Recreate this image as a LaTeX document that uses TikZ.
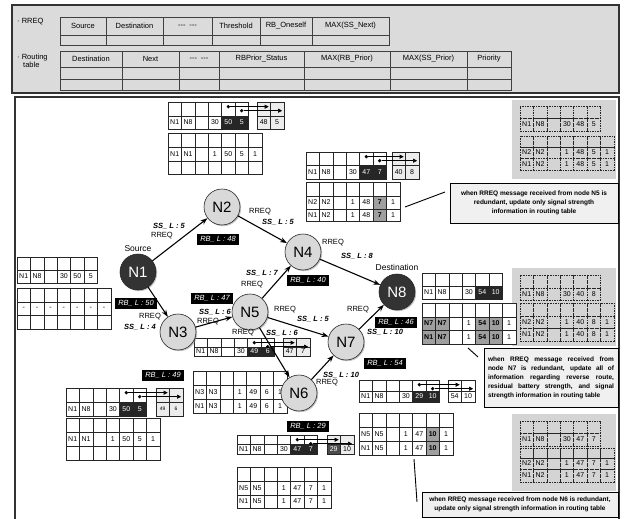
\documentclass[tikz,border=0pt]{standalone}
\usepackage{fontspec}
\setmainfont{Liberation Sans}
\usetikzlibrary{positioning, arrows.meta, shadows, calc}

\newcommand{\tabfont}{\fontsize{7}{7.5}\selectfont}
\newcommand{\cw}{13.4}
% one row of cells: name, left x, top y, height, text/style list
\newcommand{\trow}[5]{%
  \foreach \tx/\st [count=\i] in {#5}
    \node[cell, cellsty=\st, minimum height=#4] (#1-\i) at ({#2+(\i-0.5)*\cw},{#3+#4/2}) {\tx};}
% empty row: name, left x, top y, height, columns, style
\newcommand{\erow}[6]{%
  \foreach \i in {1,...,#5}
    \node[cell, cellsty=#6, minimum height=#4] (#1-\i) at ({#2+(\i-0.5)*\cw},{#3+#4/2}) {};}
% copied values: dots in columns 5,6 of a row, arrows into the box
\newcommand{\relay}[3]{%
  \node[dot] (#3a) at ([yshift=-5pt]#1-5.north) {};
  \node[dot] (#3b) at ([yshift=-9pt]#1-6.north) {};
  \draw[ptr] (#3a) -- (#3a -| #2-1.east);
  \draw[ptr] (#3b) -- (#3b -| #2-2.east);}

\begin{document}
\begin{tikzpicture}[x=1pt, y=-1pt,
    cellsty/.code={\edef\cellkey{#1}\expandafter\pgfkeysalso\expandafter{\cellkey}},
    cell/.style={draw=black!85, line width=0.6pt, minimum width=\cw pt, inner sep=0pt, font=\tabfont},
    pw/.style={fill=white},
    pk/.style={fill=black!85, text=white},
    pg/.style={fill=gray!75, font=\tabfont\bfseries},
    pl/.style={fill=gray!15},
    ps/.style={fill=gray!15, font=\fontsize{5}{6}\selectfont},
    pd/.style={fill=black!70, text=white},
    pz/.style={draw=black!85, dashed, dash pattern=on 1.5pt off 1pt},
    hline/.style={draw=black!75, line width=0.6pt},
    hd/.style={font=\fontsize{7.5}{8.5}\selectfont, inner sep=0pt},
    dot/.style={circle, fill=black, inner sep=0pt, minimum size=3.6pt},
    ptr/.style={-{Triangle[length=4pt,width=4pt]}, line width=0.6pt, shorten >=2pt},
    nd/.style={circle, draw=black!85, line width=0.6pt, fill=gray!30, minimum size=36pt, inner sep=0pt,
      font=\fontsize{15}{15}\selectfont, drop shadow={shadow xshift=1.2pt, shadow yshift=-1.2pt, fill=black!45}},
    ndk/.style={nd, fill=black!80, text=white},
    link/.style={-{Stealth[length=7pt,width=5pt]}, line width=1.1pt},
    rq/.style={font=\fontsize{7.5}{8}\selectfont, inner sep=0.5pt},
    ss/.style={font=\fontsize{7.5}{8}\selectfont\bfseries\itshape, inner sep=0.5pt},
    rb/.style={fill=black, text=white, font=\fontsize{7.5}{8}\selectfont\itshape, minimum width=42pt, minimum height=11pt, inner sep=1pt},
    tag/.style={font=\fontsize{8.5}{9}\selectfont, inner sep=0.5pt},
    call/.style={draw, line width=0.9pt, fill=gray!12, inner sep=2pt, font=\fontsize{6.5}{9}\selectfont\bfseries,
      drop shadow={shadow xshift=1pt, shadow yshift=-1pt, fill=black!60}},
    lead/.style={line width=0.9pt}
  ]
  \useasboundingbox (0,0) rectangle (624,519);

  % frames
  \draw[line width=1.2pt, draw=black!80, fill=gray!28] (12,5) rectangle (619,93);
  \draw[line width=1.3pt, draw=black!80] (15,97) rectangle (619,540);

  % message and table formats
  \node[hd, anchor=west] (hrq) at (17,22) {· RREQ};
  \foreach \a/\b/\tx [count=\i] in {60/106/Source, 106/163/Destination, 163/212/{-{}-{}-\enspace-{}-{}-},
      212/260/Threshold, 260/312/RB\_Oneself, 312/389/MAX(SS\_Next)} {
    \draw[hline] (\a,17) rectangle (\b,35) (\a,35) rectangle (\b,45);
    \node[hd] (hq-\i) at ({(\a+\b)/2},26) {\tx};
  }
  \node[hd, anchor=west, align=left] (hrt) at (17,61) {· Routing\\\hspace{6pt}table};
  \foreach \a/\b/\tx [count=\i] in {60/122/Destination, 122/179/Next, 179/219/{-{}-{}-\enspace-{}-{}-},
      219/304/RBPrior\_Status, 304/390/MAX(RB\_Prior), 390/467/MAX(SS\_Prior), 467/511/Priority} {
    \draw[hline] (\a,51) rectangle (\b,67) (\a,67) rectangle (\b,79) (\a,79) rectangle (\b,90);
    \node[hd] (hr-\i) at ({(\a+\b)/2},59) {\tx};
  }

  % gray panels, redundant messages
  \fill[gray!34] (512,100) rectangle (616,179);
  \erow{pa1}{520}{106}{12}{6}{pz}
  \trow{pa2}{520}{118}{13}{N1/pz,N8/pz,/pz,30/pz,48/pz,5/pz}
  \erow{pb1}{520}{136}{11}{7}{pz}
  \trow{pb2}{520}{147}{11}{N2/pz,N2/pz,/pz,1/pz,48/pz,5/pz,1/pz}
  \trow{pb3}{520}{158}{12}{N1/pz,N2/pz,/pz,1/pz,48/pz,5/pz,1/pz}

  \fill[gray!34] (512,268) rectangle (616,346);
  \erow{pc1}{520}{275}{13}{6}{pz}
  \trow{pc2}{520}{288}{12}{N1/pz,N8/pz,/pz,30/pz,40/pz,8/pz}
  \erow{pd1}{520}{303}{13}{7}{pz}
  \trow{pd2}{520}{316}{12}{N2/pz,N2/pz,/pz,1/pz,40/pz,8/pz,1/pz}
  \trow{pd3}{520}{328}{13}{N1/pz,N2/pz,/pz,1/pz,40/pz,8/pz,1/pz}

  \fill[gray!34] (512,414) rectangle (616,491);
  \erow{pe1}{520}{421}{12}{6}{pz}
  \trow{pe2}{520}{433}{13}{N1/pz,N8/pz,/pz,30/pz,47/pz,7/pz}
  \erow{pf1}{520}{448}{10}{7}{pz}
  \trow{pf2}{520}{458}{11}{N2/pz,N2/pz,/pz,1/pz,47/pz,7/pz,1/pz}
  \trow{pf3}{520}{469}{13}{N1/pz,N2/pz,/pz,1/pz,47/pz,7/pz,1/pz}

  % notes
  \node[call, minimum width=168pt, minimum height=40pt, align=center] (c1) at (534,203)
    {when RREQ message received from node N5 is\\redundant, update only signal strength\\information in routing table};
  \node[call, minimum width=134pt, minimum height=59pt, align=left] (c2) at (551,377.5)
    {\makebox[126pt][s]{when RREQ message received from}\\
     \makebox[126pt][s]{node N7 is redundant, update all of}\\
     \makebox[126pt][s]{information regarding reverse route,}\\
     \makebox[126pt][s]{residual battery strength, and signal}\\
     strength information in routing table};
  \node[call, minimum width=196pt, minimum height=25pt, align=center] (c3) at (520,504.5)
    {when RREQ message received from node N6 is redundant,\\update only signal strength information in routing table};
  \coordinate (k1a) at (405,207); \coordinate (k1b) at (445,192);
  \coordinate (k2a) at (468,348); \coordinate (k2b) at (478,357);
  \coordinate (k3a) at (414,459); \coordinate (k3b) at (417,502);
  \draw[lead] (k1a) -- (k1b);
  \draw[lead] (k2a) -- (k2b);
  \draw[lead] (k3a) -- (k3b);

  % N1
  \erow{rq1a}{17}{257}{13}{6}{pw}
  \trow{rq1b}{17}{270}{13}{N1/pw,N8/pw,/pw,30/pw,50/pw,5/pw}
  \erow{rt1a}{17}{288}{14}{7}{pw}
  \trow{rt1b}{17}{302}{13}{-/pw,-/pw,-/pw,-/pw,-/pw,-/pw,-/pw}
  \erow{rt1c}{17}{315}{14}{7}{pw}

  % N2
  \erow{rq2a}{168}{102}{14}{6}{pw}
  \trow{rq2b}{168}{116}{13}{N1/pw,N8/pw,/pw,30/pw,50/pk,5/pk}
  \erow{bx2a}{257}{102}{14}{2}{pl}
  \trow{bx2b}{257}{116}{13}{48/pl,5/pl}
  \relay{rq2a}{bx2a}{d2}
  \erow{rt2a}{168}{133}{14}{7}{pw}
  \trow{rt2b}{168}{147}{14}{N1/pw,N1/pw,/pw,1/pw,50/pw,5/pw,1/pw}
  \erow{rt2c}{168}{161}{13}{7}{pw}

  % N4
  \erow{rq4a}{306}{152}{13}{6}{pw}
  \trow{rq4b}{306}{165}{14}{N1/pw,N8/pw,/pw,30/pw,47/pk,7/pk}
  \erow{bx4a}{392}{152}{13}{2}{pl}
  \trow{bx4b}{392}{165}{14}{40/pl,8/pl}
  \relay{rq4a}{bx4a}{d4}
  \erow{rt4a}{306}{182}{14}{7}{pw}
  \trow{rt4b}{306}{196}{13}{N2/pw,N2/pw,/pw,1/pw,48/pw,7/pg,1/pw}
  \trow{rt4c}{306}{209}{12}{N1/pw,N2/pw,/pw,1/pw,48/pw,7/pg,1/pw}

  % N8
  \erow{rq8a}{422}{273}{13}{6}{pw}
  \trow{rq8b}{422}{286}{13}{N1/pw,N8/pw,/pw,30/pw,54/pk,10/pk}
  \erow{rt8a}{422}{303}{14}{7}{pw}
  \trow{rt8b}{422}{317}{13}{N7/pg,N7/pg,/pw,1/pw,54/pg,10/pg,1/pw}
  \trow{rt8c}{422}{330}{14}{N1/pg,N7/pg,/pw,1/pw,54/pg,10/pg,1/pw}

  % N7
  \erow{rq7a}{359}{380}{11}{6}{pw}
  \trow{rq7b}{359}{391}{11}{N1/pw,N8/pw,/pw,30/pw,29/pk,10/pk}
  \erow{bx7a}{448}{380}{11}{2}{pw}
  \trow{bx7b}{448}{391}{11}{54/pw,10/pw}
  \relay{rq7a}{bx7a}{d7}
  \erow{rt7a}{359}{413}{14}{7}{pw}
  \trow{rt7b}{359}{427}{14}{N5/pw,N5/pw,/pw,1/pw,47/pw,10/pg,1/pw}
  \trow{rt7c}{359}{441}{14}{N1/pw,N5/pw,/pw,1/pw,47/pw,10/pg,1/pw}

  % N6
  \erow{rq6a}{237}{435}{9}{6}{pw}
  \trow{rq6b}{237}{444}{10}{N1/pw,N8/pw,/pw,30/pw,47/pk,7/pk}
  \erow{bx6a}{327}{435}{9}{2}{pl}
  \trow{bx6b}{327}{444}{10}{29/pd,10/pl}
  \relay{rq6a}{bx6a}{d6}
  \erow{rt6a}{237}{467}{14}{7}{pw}
  \trow{rt6b}{237}{481}{14}{N5/pw,N5/pw,/pw,1/pw,47/pw,7/pw,1/pw}
  \trow{rt6c}{237}{495}{13}{N1/pw,N5/pw,/pw,1/pw,47/pw,7/pw,1/pw}

  % N3
  \erow{rq3a}{66}{388}{14}{6}{pw}
  \trow{rq3b}{66}{402}{14}{N1/pw,N8/pw,/pw,30/pw,50/pk,5/pk}
  \erow{bx3a}{156}{388}{14}{2}{pl}
  \trow{bx3b}{156}{402}{14}{49/ps,6/ps}
  \relay{rq3a}{bx3a}{d3}
  \erow{rt3a}{66}{418}{14}{7}{pw}
  \trow{rt3b}{66}{432}{14}{N1/pw,N1/pw,/pw,1/pw,50/pw,5/pw,1/pw}
  \erow{rt3c}{66}{446}{14}{7}{pw}

  % N5
  \erow{rq5a}{194}{338}{9}{6}{pw}
  \trow{rq5b}{194}{347}{9}{N1/pw,N8/pw,/pw,30/pw,49/pk,6/pk}
  \erow{bx5a}{283}{338}{9}{2}{pl}
  \trow{bx5b}{283}{347}{9}{47/pl,7/pl}
  \relay{rq5a}{bx5a}{d5}
  \erow{rt5a}{193}{371}{14}{7}{pw}
  \trow{rt5b}{193}{385}{14}{N3/pw,N3/pw,/pw,1/pw,49/pw,6/pw,1/pw}
  \trow{rt5c}{193}{399}{14}{N1/pw,N3/pw,/pw,1/pw,49/pw,6/pw,1/pw}

  % nodes
  \node[ndk] (N1) at (138,272) {N1};
  \node[nd]  (N2) at (222,207) {N2};
  \node[nd]  (N4) at (303,252) {N4};
  \node[ndk] (N8) at (397,292) {N8};
  \node[nd]  (N5) at (250,312) {N5};
  \node[nd]  (N3) at (178,332) {N3};
  \node[nd]  (N7) at (346,342) {N7};
  \node[nd]  (N6) at (299,393) {N6};
  \node[tag, above=1pt of N1] (src) {Source};
  \node[tag, above=2pt of N8] (dst) {Destination};

  % RREQ flooding
  \draw[link] (N1) -- (N2);
  \draw[link] (N2) -- (N4);
  \draw[link] (N4) -- (N8);
  \draw[link] (N1) -- (N3);
  \draw[link] (N3) -- (N5);
  \draw[link] (N5) -- (N4);
  \draw[link] (N5) -- (N7);
  \draw[link] (N5) -- (N6);
  \draw[link] (N6) -- (N7);
  \draw[link] (N7) -- (N8);

  % link labels
  \node[ss] (s12) at (169,226) {SS\_ L : 5};
  \node[rq] (r12) at (162,236) {RREQ};
  \node[rq] (r24) at (260,212) {RREQ};
  \node[ss] (s24) at (278,222) {SS\_ L : 5};
  \node[rq] (r48) at (333,243) {RREQ};
  \node[ss] (s48) at (357,256) {SS\_ L : 8};
  \node[ss] (s54) at (262,273) {SS\_ L : 7};
  \node[rq] (r54) at (252,285) {RREQ};
  \node[ss] (s35) at (215,312) {SS\_ L : 6};
  \node[rq] (r35) at (208,322) {RREQ};
  \node[rq] (r13) at (150,317) {RREQ};
  \node[ss] (s13) at (140,327) {SS\_ L : 4};
  \node[rq] (r57) at (285,310) {RREQ};
  \node[ss] (s57) at (313,319) {SS\_ L : 5};
  \node[rq] (r56) at (243,333) {RREQ};
  \node[ss] (s56) at (282,333) {SS\_ L : 6};
  \node[rq] (r78) at (358,310) {RREQ};
  \node[ss] (s78) at (385,332) {SS\_ L : 10};
  \node[ss] (s67) at (341,375) {SS\_ L : 10};
  \node[rq] (r67) at (327,383) {RREQ};

  % residual battery
  \node[rb] (b2) at (218,239) {RB\_ L : 48};
  \node[rb] (b4) at (308,280) {RB\_ L : 40};
  \node[rb] (b5) at (212,298) {RB\_ L : 47};
  \node[rb] (b1) at (136,303) {RB\_ L : 50};
  \node[rb] (b3) at (163,375) {RB\_ L : 49};
  \node[rb] (b8) at (396,322) {RB\_ L : 46};
  \node[rb] (b7) at (385,363) {RB\_ L : 54};
  \node[rb] (b6) at (308,426) {RB\_ L : 29};
\end{tikzpicture}
\end{document}
